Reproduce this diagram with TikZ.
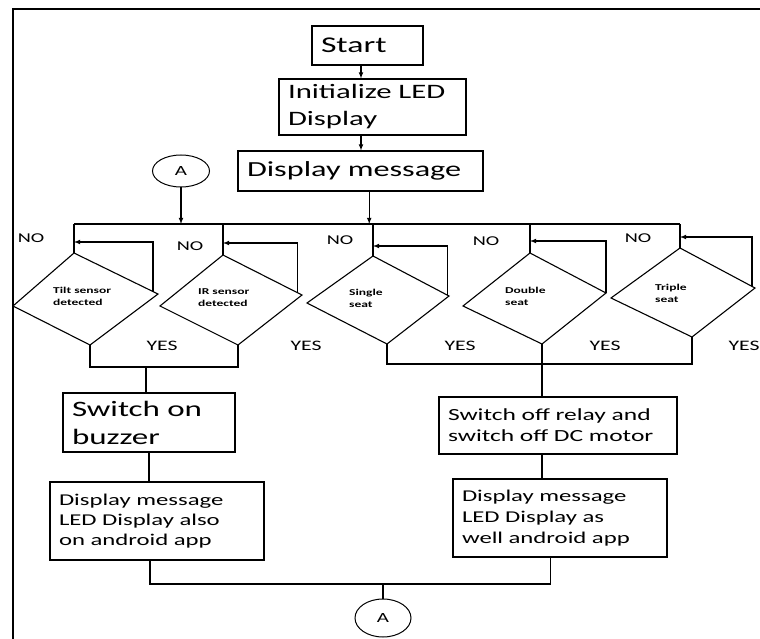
\documentclass[tikz,border=0pt]{standalone}
\usepackage{fontspec}
\setmainfont{Carlito}[FakeStretch=1.5]
\usetikzlibrary{shapes.geometric,calc}

\tikzset{
  box/.style={draw, line width=1.1pt, inner xsep=9pt, inner ysep=0pt, align=left},
  ln/.style={line width=1.1pt},
  arr/.style={line width=1.1pt, -latex},
  dtext/.style={anchor=west, align=left, inner sep=0pt, font=\fontsize{9}{12}\selectfont\bfseries},
  lbl/.style={inner sep=0pt},
  conn/.style={draw, ellipse, line width=1pt, inner sep=0pt, font=\fontsize{14}{14}\selectfont},
}

\begin{document}
\begin{tikzpicture}[x=1pt, y=-1pt]
	\useasboundingbox (0,0) rectangle (760,639);
	\draw[line width=1.8pt] (760,9) -- (13,9) -- (13,639);
	
	% top of the chart
	\node[box, text width=93, minimum height=39, font=\fontsize{22.5}{27}\selectfont] (start) at (367.5,45.5) {Start};
	\node[box, text width=169, minimum height=56, font=\fontsize{20.5}{27}\selectfont] (init) at (372.5,107) {Initialize LED\\Display};
	\node[box, text width=227, minimum height=40, font=\fontsize{21.5}{27}\selectfont] (disp) at (360.5,171) {Display message};
	\node[conn, minimum width=57, minimum height=32] (atop) at (181,171) {A};
	\draw[arr] (start.252) -- (start.252 |- init.north);
	\draw[arr] (start.252 |- init.south) -- (start.252 |- disp.north);
	
	% bus to the five checks
	\coordinate (busl) at (74,224);
	\coordinate (busr) at (680,224);
	\draw[ln] (busl) -- (busr);
	\draw[arr] (atop) -- (atop |- busl);
	\draw[arr] (disp.293) -- (disp.293 |- busl);
	
	\coordinate (d1t) at (74,253); \coordinate (d1r) at (158,294); \coordinate (d1b) at (90,345); \coordinate (d1l) at (13,306);
	\coordinate (d2t) at (223,255); \coordinate (d2r) at (302,295); \coordinate (d2b) at (238,345); \coordinate (d2l) at (160,306);
	\coordinate (d3t) at (373,256); \coordinate (d3r) at (449,296); \coordinate (d3b) at (387,344); \coordinate (d3l) at (307,303);
	\coordinate (d4t) at (530,253); \coordinate (d4r) at (606,293); \coordinate (d4b) at (542,344); \coordinate (d4l) at (463,306);
	\coordinate (d5t) at (680,248); \coordinate (d5r) at (755,288); \coordinate (d5b) at (692,337); \coordinate (d5l) at (611,298);
	
	\draw[ln] (d1t) -- (d1r) -- (d1b) -- (d1l) -- cycle;
	\draw[ln] (d2t) -- (d2r) -- (d2b) -- (d2l) -- cycle;
	\draw[ln] (d3t) -- (d3r) -- (d3b) -- (d3l) -- cycle;
	\draw[ln] (d4t) -- (d4r) -- (d4b) -- (d4l) -- cycle;
	\draw[ln] (d5t) -- (d5r) -- (d5b) -- (d5l) -- cycle;
	
	\node[dtext] (tilt) at (53,296) {Tilt sensor\\detected};
	\node[dtext] (ir) at (198,298) {IR sensor\\detected};
	\node[dtext] (single) at (349,298) {Single\\seat};
	\node[dtext] (double) at (505,296) {Double\\seat};
	\node[dtext] (triple) at (655,293) {Triple\\seat};
	
	\draw[ln] (busl) -- (d1t);
	\draw[ln] (d2t |- busl) -- (d2t);
	\draw[ln] (d3t |- busl) -- (d3t);
	\draw[ln] (d4t |- busl) -- (d4t);
	\draw[ln] (busr) -- (d5t);
	
	% NO loops
	\draw[arr] ($(d1t)!.94!(d1r)$) |- ([yshift=11]d1t);
	\draw[arr] ($(d2t)!.94!(d2r)$) |- ([yshift=12]d2t);
	\draw[arr] ($(d3t)!.98!(d3r)$) |- ([yshift=10]d3t);
	\draw[arr] (d4r) |- ([yshift=12]d4t);
	\draw[arr] ($(d5t)!.96!(d5r)$) |- ([yshift=11]d5t);
	
	\node[lbl, font=\fontsize{13.5}{14}\selectfont] (no1) at (31,238) {NO};
	\node[lbl, font=\fontsize{13.5}{14}\selectfont] (no2) at (190,246) {NO};
	\node[lbl, font=\fontsize{13.5}{14}\selectfont] (no3) at (340,240) {NO};
	\node[lbl, font=\fontsize{13.5}{14}\selectfont] (no4) at (486,241) {NO};
	\node[lbl, font=\fontsize{13.5}{14}\selectfont] (no5) at (638,238) {NO};
	
	\node[lbl, font=\fontsize{14.5}{15}\selectfont] (yes1) at (162,346) {YES};
	\node[lbl, font=\fontsize{14.5}{15}\selectfont] (yes2) at (306,346) {YES};
	\node[lbl, font=\fontsize{14.5}{15}\selectfont] (yes3) at (460,346) {YES};
	\node[lbl, font=\fontsize{14.5}{15}\selectfont] (yes4) at (605,346) {YES};
	\node[lbl, font=\fontsize{14.5}{15}\selectfont] (yes5) at (744,346) {YES};
	
	% actions
	\node[box, text width=154, minimum height=59, font=\fontsize{22}{28}\selectfont] (buzz) at (149,422.5) {Switch on\\buzzer};
	\node[box, text width=196, minimum height=78, font=\fontsize{16.5}{20}\selectfont] (ldisp) at (157,521) {Display message\\LED Display also\\on android app};
	\node[box, text width=220, minimum height=57, font=\fontsize{17}{21}\selectfont] (relay) at (558,425.5) {Switch off relay and\\switch off DC motor};
	\node[box, text width=196, minimum height=78, font=\fontsize{16.5}{21}\selectfont] (rdisp) at (560,518) {Display message\\LED Display as\\well android app};
	
	\coordinate (yl) at (146,367);
	\draw[ln] (d1b) |- (yl) -| (d2b);
	\draw[ln] (yl) -- (yl |- buzz.north);
	\draw[ln] (buzz.south) -- (buzz.south |- ldisp.north);
	
	\coordinate (yr) at (542,364);
	\draw[ln] (d3b) |- (yr) -| (d5b);
	\draw[ln] (d4b) -- (d4b |- relay.north);
	\draw[ln] (d4b |- relay.south) -- (d4b |- rdisp.north);
	
	% back to A
	\coordinate (jn) at (383,584);
	\node[conn, minimum width=56, minimum height=38] (abot) at (383,618) {A};
	\draw[ln] (ldisp.260) |- (jn) -| (rdisp.257);
	\draw[ln] (jn) -- (abot);
\end{tikzpicture}
\end{document}
